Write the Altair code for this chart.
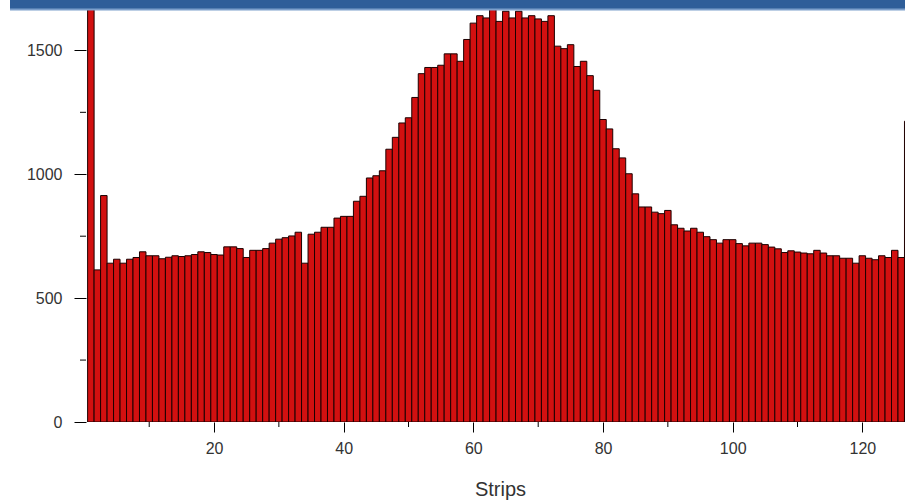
import altair as alt
import pandas as pd

# Counts per strip (strip 1 and 63 exceed the visible range)
strips = list(range(1, 128))
counts = [
    1800, 614, 914, 641, 657, 641, 657, 664, 687, 671,
    671, 659, 665, 671, 668, 671, 676, 687, 684, 676,
    674, 707, 707, 700, 664, 693, 693, 700, 722, 738,
    744, 751, 766, 641, 758, 766, 786, 786, 823, 830,
    830, 891, 911, 985, 994, 1014, 1101, 1149, 1207, 1228,
    1310, 1406, 1431, 1431, 1440, 1486, 1486, 1456, 1544, 1610,
    1640, 1631, 1700, 1617, 1658, 1631, 1658, 1631, 1640, 1627,
    1617, 1640, 1517, 1507, 1523, 1435, 1456, 1398, 1339, 1221,
    1183, 1103, 1066, 1002, 921, 868, 868, 847, 841, 854,
    796, 782, 771, 782, 766, 748, 736, 722, 736, 736,
    720, 711, 722, 722, 716, 706, 699, 684, 691, 686,
    682, 679, 693, 682, 671, 671, 661, 661, 641, 671,
    661, 655, 671, 664, 693, 664, 1214,
]

y_major = [0, 500, 1000, 1500]
y_minor = [250, 750, 1250]
x_major = [20, 40, 60, 80, 100, 120]
x_minor = [10, 30, 50, 70, 90, 110]

X_DOMAIN = [0.25, 126.58]
Y_DOMAIN = [0, 1663]
W, H = 819, 412

df = pd.DataFrame({"strip": strips, "count": counts})

xscale = alt.Scale(domain=X_DOMAIN, nice=False, zero=False)
yscale = alt.Scale(domain=Y_DOMAIN, nice=False)

x_axis = alt.Axis(
    values=x_major,
    format="d",
    tickSize=10,
    labelPadding=8,
    title="Strips",
    titleFontSize=20,
    titleFontWeight="normal",
    titleColor="#333333",
    titleFont="Liberation Sans",
    titleY=73,
    titleX=414,
    titleBaseline="alphabetic",
    domain=False,
    grid=False,
)
y_axis = alt.Axis(
    values=y_major,
    format="d",
    tickSize=12,
    labelPadding=12,
    title=None,
    domain=False,
    grid=False,
)

bars = (
    alt.Chart(df)
    .transform_calculate(x0="datum.strip - 0.5", x1="datum.strip + 0.5", base="0")
    .mark_rect(fill="#d21010", stroke="#1c0000", strokeWidth=1, clip=True)
    .encode(
        x=alt.X("x0:Q", scale=xscale, axis=x_axis),
        x2="x1:Q",
        y=alt.Y("count:Q", scale=yscale, axis=y_axis),
        y2="base:Q",
    )
)

ymin_df = pd.DataFrame({"count": y_minor})
xmin_df = pd.DataFrame({"x0": x_minor})

y_minor_ticks = (
    alt.Chart(ymin_df)
    .mark_rule(color="black", strokeWidth=1)
    .encode(
        y=alt.Y("count:Q", scale=yscale, axis=y_axis),
        x=alt.value(-6),
        x2=alt.value(0),
    )
)

x_minor_ticks = (
    alt.Chart(xmin_df)
    .mark_rule(color="black", strokeWidth=1)
    .encode(
        x=alt.X("x0:Q", scale=xscale, axis=x_axis),
        y=alt.value(H),
        y2=alt.value(H + 5),
    )
)

band_df = pd.DataFrame({"name": ["band"]})
band = (
    alt.Chart(band_df)
    .mark_rect(color="#2f5e99")
    .encode(x=alt.value(-76), x2=alt.value(W), y=alt.value(-10), y2=alt.value(-1))
)
band_edge = (
    alt.Chart(band_df)
    .mark_rect(color="#7d9fcb")
    .encode(x=alt.value(-76), x2=alt.value(W), y=alt.value(-1.5), y2=alt.value(0.5))
)

chart = (
    alt.layer(bars, y_minor_ticks, x_minor_ticks, band, band_edge)
    .properties(
        width=W,
        height=H,
        autosize=alt.AutoSizeParams(type="none"),
        padding={"left": 86, "top": 10, "right": 0, "bottom": 79},
        background="white",
    )
    .configure_view(stroke=None)
    .configure_axis(
        labelFont="Liberation Sans",
        labelFontSize=16,
        labelColor="#333333",
        tickColor="black",
        tickWidth=1,
    )
)

chart.save("out.html", embed_options={"renderer": "svg", "actions": False})
